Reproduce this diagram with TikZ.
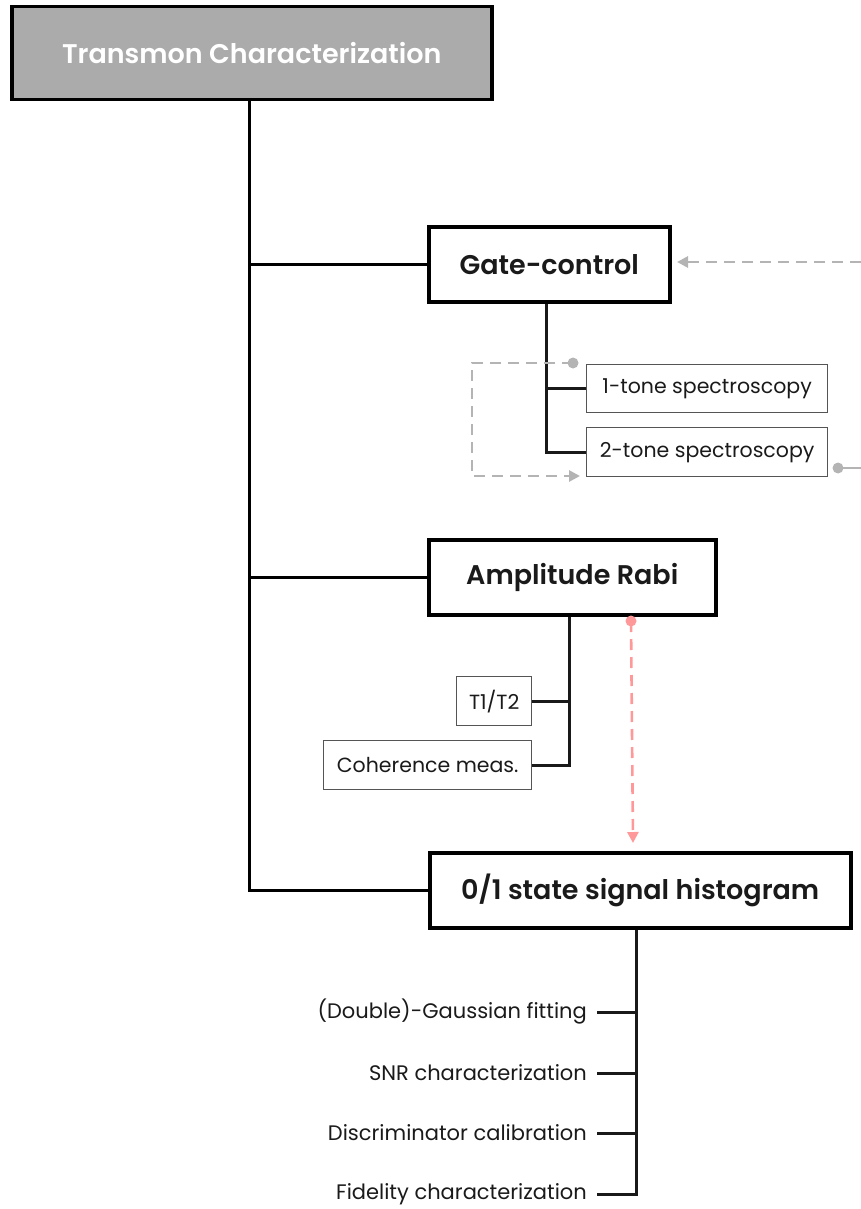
\documentclass[tikz,border=0pt]{standalone}
\usepackage{fontspec}
\setmainfont{Poppins}
\newfontfamily\semib{Poppins SemiBold}
\usetikzlibrary{arrows.meta}
\definecolor{boxgray}{HTML}{ABABAB}
\definecolor{dashgray}{HTML}{B4B4B4}
\definecolor{pinkish}{HTML}{FF9999}
\definecolor{smallborder}{HTML}{555555}
\definecolor{textdark}{HTML}{1A1A1A}
\tikzset{
  x=1pt, y=-1pt,
  bigbox/.style={draw=black, line width=3.5pt, inner sep=0pt, anchor=north west, font=\semib\fontsize{27}{30}\selectfont, text=textdark},
  smallbox/.style={draw=smallborder, line width=1.3pt, inner sep=0pt, anchor=north west, font=\fontsize{20.5}{24}\selectfont, text=textdark},
  leaf/.style={inner sep=0pt, anchor=east, font=\fontsize{21}{24}\selectfont, text=textdark},
  trunk/.style={line width=3pt, black},
  sub/.style={line width=3pt, black!90},
  graydash/.style={dashgray, line width=2.8pt, dash pattern=on 11pt off 7pt},
  pinkdash/.style={pinkish, line width=2.6pt, dash pattern=on 11pt off 7pt},
  tip/.style={-{Triangle[length=11pt,width=11pt]}},
}
\begin{document}
\begin{tikzpicture}
\useasboundingbox (0,0) rectangle (861,1209);
% title
\node[bigbox, fill=boxgray, text=white, minimum width=480pt, minimum height=93pt] (title) at (10,5) {Transmon Characterization};
% main boxes
\node[bigbox, minimum width=241pt, minimum height=75pt] (gate) at (427,225) {Gate-control};
\node[bigbox, minimum width=287pt, minimum height=75pt] (rabi) at (427,538) {Amplitude Rabi};
\node[bigbox, minimum width=421pt, minimum height=75pt] (hist) at (428,851) {0/1 state signal histogram};
% small boxes
\node[smallbox, minimum width=241pt, minimum height=48pt] (one) at (586,364) {1-tone spectroscopy};
\node[smallbox, minimum width=241pt, minimum height=49pt] (two) at (586,427) {2-tone spectroscopy};
\node[smallbox, minimum width=75pt, minimum height=49pt] (t12) at (456,676) {T1/T2};
\node[smallbox, minimum width=208pt, minimum height=49pt] (coh) at (323,740) {Coherence meas.};
% leaves
\node[leaf] (l1) at (587,1012) {(Double)-Gaussian fitting};
\node[leaf] (l2) at (587,1073) {SNR characterization};
\node[leaf] (l3) at (587,1133) {Discriminator calibration};
\node[leaf] (l4) at (587,1194) {Fidelity characterization};
% trunk
\coordinate (tx) at (249,0);
\draw[trunk] (title.south -| tx) -- (hist.west -| tx) -- (hist.west);
\draw[trunk] (gate.west -| tx) -- (gate.west);
\draw[trunk] (rabi.west -| tx) -- (rabi.west);
% gate sub-tree
\coordinate (gx) at (546,0);
\draw[sub] (gate.south -| gx) |- (one.west);
\draw[sub] (gate.south -| gx) |- (two.west);
% rabi sub-tree
\coordinate (rx) at (569,0);
\draw[sub] (rabi.south -| rx) |- (t12.east);
\draw[sub] (rabi.south -| rx) |- (coh.east);
% hist sub-tree
\coordinate (hx) at (636,0);
\draw[sub] (hist.south -| hx) |- ([xshift=10pt]l4.east);
\foreach \n in {l1,l2,l3}{\draw[sub] ([xshift=10pt]\n.east) -- (\n.east -| hx);}
% gray dashed loop
\coordinate (gd1) at (573,363);
\coordinate (gd2) at (580,476);
\fill[dashgray] (gd1) circle (5.5pt);
\draw[graydash, tip] (gd1) -- (472,363) -- (472,476) -- (gd2);
% gray dashed input arrow
\coordinate (ga0) at (861,262);
\coordinate (ga1) at (677,262);
\draw[graydash, tip] (ga0) -- (ga1);
% gray dot output
\coordinate (gd3) at (838,468);
\coordinate (gd4) at (861,468);
\fill[dashgray] (gd3) circle (5.5pt);
\draw[dashgray, line width=2.8pt] (gd3) -- (gd4);
% pink dashed
\coordinate (pk1) at (631,621);
\coordinate (pk2) at (633,843);
\fill[pinkish] (pk1) circle (5.5pt);
\draw[pinkdash, tip] (pk1) -- (pk2);
\end{tikzpicture}
\end{document}
